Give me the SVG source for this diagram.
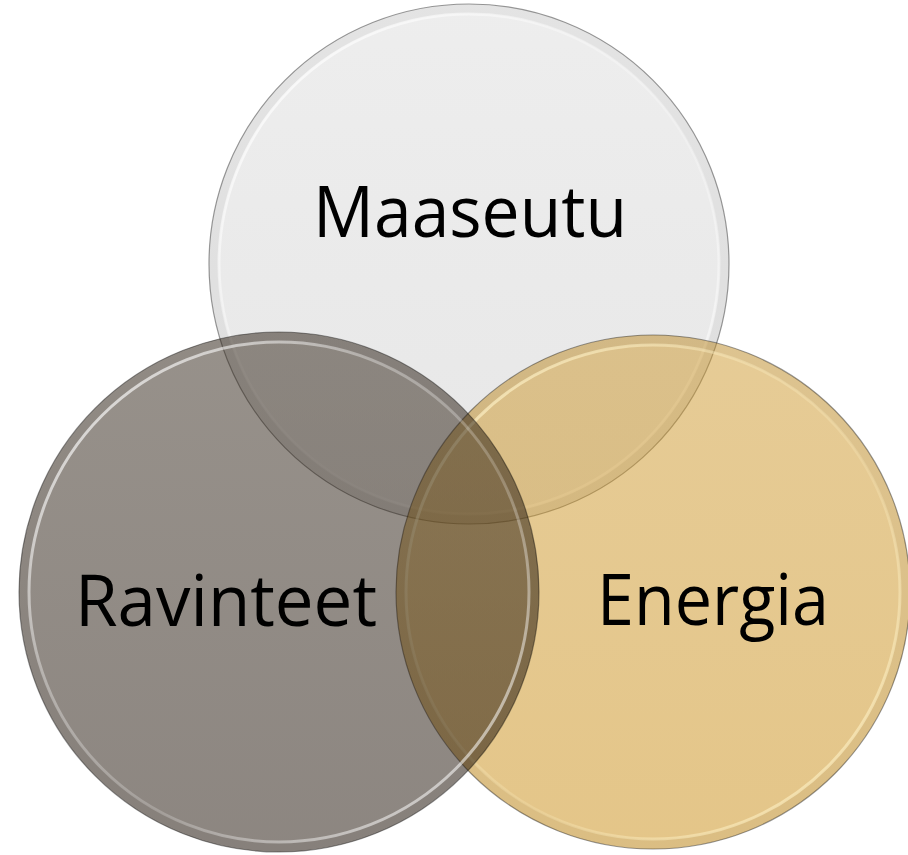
<svg xmlns="http://www.w3.org/2000/svg" width="908" height="855" viewBox="0 0 908 855">
  <defs>
    <linearGradient id="gTop" x1="0" y1="0" x2="0" y2="1">
      <stop offset="0" stop-color="#dcdcdc" stop-opacity="0.5"/>
      <stop offset="1" stop-color="#cfcfcf" stop-opacity="0.5"/>
    </linearGradient>
    <linearGradient id="gLeft" x1="0" y1="0" x2="0" y2="1">
      <stop offset="0" stop-color="#2f2316" stop-opacity="0.5"/>
      <stop offset="1" stop-color="#1a0d02" stop-opacity="0.5"/>
    </linearGradient>
    <linearGradient id="gRight" x1="0" y1="0" x2="0" y2="1">
      <stop offset="0" stop-color="#cd982d" stop-opacity="0.5"/>
      <stop offset="1" stop-color="#c98c12" stop-opacity="0.5"/>
    </linearGradient>
    <linearGradient id="hl" x1="0" y1="0" x2="1" y2="1">
      <stop offset="0" stop-color="#ffffff" stop-opacity="0.85"/>
      <stop offset="0.35" stop-color="#ffffff" stop-opacity="0.35"/>
      <stop offset="0.6" stop-color="#ffffff" stop-opacity="0.2"/>
      <stop offset="1" stop-color="#ffffff" stop-opacity="0.75"/>
    </linearGradient>
    <linearGradient id="hlWarm" x1="0" y1="0" x2="1" y2="1">
      <stop offset="0" stop-color="#fff3c8" stop-opacity="0.85"/>
      <stop offset="0.35" stop-color="#fff3c8" stop-opacity="0.35"/>
      <stop offset="0.6" stop-color="#fff3c8" stop-opacity="0.2"/>
      <stop offset="1" stop-color="#fff3c8" stop-opacity="0.8"/>
    </linearGradient>
  </defs>
  <style>
    .edge { stroke: #000000; stroke-opacity: 0.4; stroke-width: 1.2; }
    .rim { fill: none; stroke: #000000; stroke-opacity: 0.04; stroke-width: 9; }
    .ring { fill: none; stroke-width: 3; }
    .label { font-family: "Open Sans", "Liberation Sans", Arial, sans-serif; font-size: 72px; fill: #000000; text-anchor: middle; }
  </style>

  <g id="node-maaseutu">
    <circle cx="469" cy="264" r="260" fill="url(#gTop)" class="edge"/>
    <circle cx="469" cy="264" r="255" class="rim"/>
    <circle cx="469" cy="264" r="250" class="ring" stroke="url(#hl)"/>
    <text x="470" y="237" class="label" textLength="314" lengthAdjust="spacingAndGlyphs">Maaseutu</text>
  </g>

  <g id="node-energia">
    <circle cx="653" cy="592" r="257" fill="url(#gRight)" class="edge"/>
    <circle cx="653" cy="592" r="252" class="rim"/>
    <circle cx="653" cy="592" r="247" class="ring" stroke="url(#hlWarm)"/>
    <text x="713" y="625" class="label" textLength="232" lengthAdjust="spacingAndGlyphs">Energia</text>
  </g>

  <g id="node-ravinteet">
    <circle cx="279" cy="592" r="260" fill="url(#gLeft)" class="edge"/>
    <circle cx="279" cy="592" r="255" class="rim"/>
    <circle cx="279" cy="592" r="250" class="ring" stroke="url(#hl)"/>
    <text x="226" y="626" class="label" textLength="302" lengthAdjust="spacingAndGlyphs">Ravinteet</text>
  </g>

  <g id="connectors"></g>
</svg>
